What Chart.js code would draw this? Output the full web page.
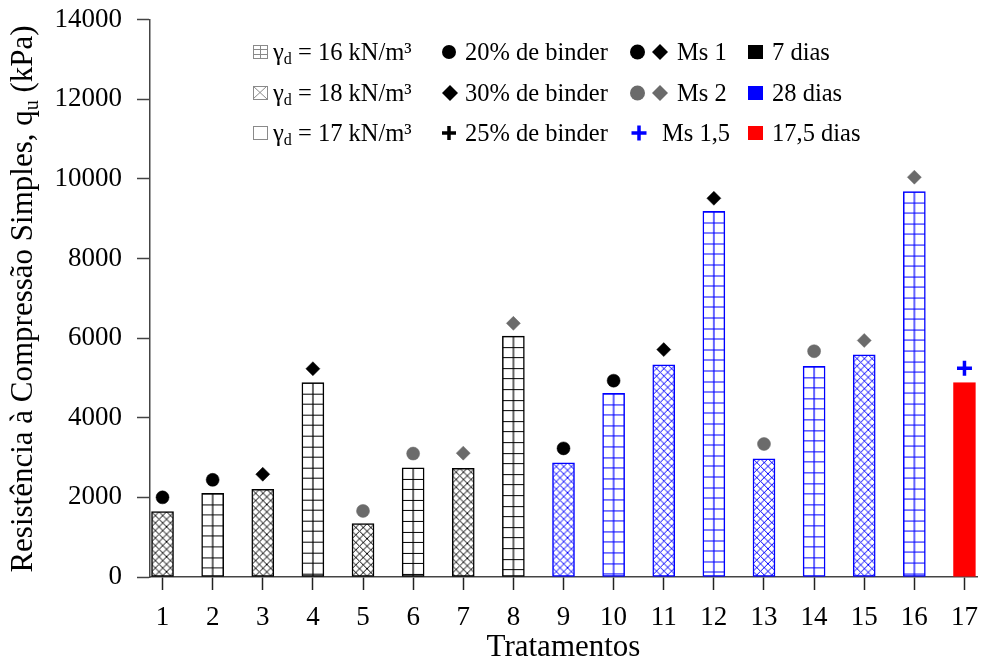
<!DOCTYPE html>
<html><head><meta charset="utf-8">
<script src="https://cdn.jsdelivr.net/npm/chart.js@4.4.1/dist/chart.umd.min.js"></script>
<style>html,body{margin:0;padding:0;background:#fff;overflow:hidden;}canvas{display:block;}</style>
</head><body>
<canvas id="c" width="988" height="666" style="width:988px;height:666px"></canvas>
<script>
// ---- data ----
const treatments   = [1,2,3,4,5,6,7,8,9,10,11,12,13,14,15,16,17];
const quValues     = [1640,2100,2200,4880,1340,2740,2730,6050,2870,4610,5330,9180,2970,5290,5580,9680,4880];
const markerValues = [2000,2440,2580,5230,1660,3100,3110,6370,3230,4930,5710,9510,3340,5670,5940,10040,5240];
const unitWeights  = [18,16,18,16,18,16,18,16,18,16,18,16,18,16,18,16,17];
const cureDays     = [7,7,7,7,7,7,7,7,28,28,28,28,28,28,28,28,17.5];
const binderPct    = [20,20,30,30,20,20,30,30,20,20,30,30,20,20,30,30,25];
const msModules    = [1,1,1,1,2,2,2,2,1,1,1,1,2,2,2,2,1.5];
const yTicks       = [0,2000,4000,6000,8000,10000,12000,14000];
const xTitle = 'Tratamentos';
const yTitleMain = 'Resistência à Compressão Simples, q';
const yTitleSub = 'u';
const yTitleEnd = ' (kPa)';
const legendWeights = ['16 kN/m³','18 kN/m³','17 kN/m³'];
const legendBinder  = ['20% de binder','30% de binder','25% de binder'];
const legendMs      = ['Ms 1','Ms 2','Ms 1,5'];
const legendDays    = ['7 dias','28 dias','17,5 dias'];

// ---- styles ----
const FONT = '"Liberation Serif", "Times New Roman", serif';
const BAR_W = 22;
const dayColor = d => d === 7 ? '#000000' : (d === 28 ? '#0000ff' : '#ff0000');
const GRAY = '#6b6b6b';

function gridPattern(color){
  const c = document.createElement('canvas'); c.width = BAR_W; c.height = 53;
  const g = c.getContext('2d');
  g.fillStyle = '#fff'; g.fillRect(0,0,c.width,c.height);
  g.strokeStyle = color; g.lineWidth = 1.2;
  g.beginPath();
  for (let k=0;k<5;k++){ const y = Math.round(k*10.6)+0.5; g.moveTo(0,y); g.lineTo(BAR_W,y); }
  g.moveTo(BAR_W/2,0); g.lineTo(BAR_W/2,c.height);
  g.stroke();
  return g.createPattern(c,'repeat');
}
function hatchPattern(color){
  const s = 15, p = 7.5;
  const c = document.createElement('canvas'); c.width = s; c.height = s;
  const g = c.getContext('2d');
  g.fillStyle = '#fff'; g.fillRect(0,0,s,s);
  g.strokeStyle = color; g.lineWidth = 1.0;
  g.beginPath();
  for (let o = -2*s; o <= 2*s; o += p){
    g.moveTo(o-1,-1); g.lineTo(o+s+1,s+1);
    g.moveTo(o+s+1,-1); g.lineTo(o-1,s+1);
  }
  g.stroke();
  return g.createPattern(c,'repeat');
}
const barFills = treatments.map((t,i)=>{
  const col = dayColor(cureDays[i]);
  if (unitWeights[i] === 16) return gridPattern(col);
  if (unitWeights[i] === 18) return hatchPattern(col);
  return col;
});
const barBorders = cureDays.map(dayColor);

function pts(pred){
  return treatments.map((t,i)=> pred(i) ? {x:t, y:markerValues[i]} : null).filter(Boolean);
}

const patternAlign = {
  id:'patternAlign',
  beforeDatasetsDraw(chart){
    const meta = chart.getDatasetMeta(0);
    meta.data.forEach((el,i)=>{
      const p = barFills[i];
      if (p && typeof p === 'object' && p.setTransform){
        p.setTransform(new DOMMatrix([1,0,0,1, el.x - el.width/2, el.y]));
      }
    });
  }
};

function circle(ctx,x,y,r,color){ ctx.beginPath(); ctx.arc(x,y,r,0,Math.PI*2); ctx.fillStyle=color; ctx.fill(); }
function diamond(ctx,x,y,r,color){ ctx.beginPath(); ctx.moveTo(x-r,y); ctx.lineTo(x,y-r); ctx.lineTo(x+r,y); ctx.lineTo(x,y+r); ctx.closePath(); ctx.fillStyle=color; ctx.fill(); }
function plus(ctx,x,y,r,color,w){ ctx.beginPath(); ctx.moveTo(x-r,y); ctx.lineTo(x+r,y); ctx.moveTo(x,y-r); ctx.lineTo(x,y+r); ctx.strokeStyle=color; ctx.lineWidth=w; ctx.stroke(); }

const decorations = {
  id:'decorations',
  afterDraw(chart){
    const ctx = chart.ctx;
    ctx.save();
    // y title with subscript
    ctx.translate(31.5, 299);
    ctx.rotate(-Math.PI/2);
    ctx.fillStyle = '#000';
    ctx.textBaseline = 'alphabetic';
    const mainF = '31px ' + FONT, subF = '20px ' + FONT;
    ctx.font = mainF; const w1 = ctx.measureText(yTitleMain).width; const w3 = ctx.measureText(yTitleEnd).width;
    ctx.font = subF; const w2 = ctx.measureText(yTitleSub).width;
    let x0 = -(w1+w2+w3)/2;
    ctx.font = mainF; ctx.fillText(yTitleMain, x0, 0);
    ctx.font = subF; ctx.fillText(yTitleSub, x0+w1, 6);
    ctx.font = mainF; ctx.fillText(yTitleEnd, x0+w1+w2, 0);
    ctx.restore();

    // legend
    ctx.save();
    const base = [60, 101, 141];
    const LF = '24.5px ' + FONT, LSF = '16px ' + FONT;
    ctx.fillStyle = '#000'; ctx.textBaseline = 'alphabetic';
    for (let r=0;r<3;r++){
      const by = base[r], cy = by - 8;
      // icon col 1
      const ix = 253, iy = cy - 7, iw = 14, ih = 13;
      ctx.strokeStyle = '#8a8a8a'; ctx.lineWidth = 1;
      ctx.strokeRect(ix+0.5, iy+0.5, iw, ih);
      ctx.beginPath();
      if (r===0){ ctx.moveTo(ix, iy+4.5); ctx.lineTo(ix+iw, iy+4.5); ctx.moveTo(ix, iy+9.5); ctx.lineTo(ix+iw, iy+9.5); ctx.moveTo(ix+iw/2+0.5, iy); ctx.lineTo(ix+iw/2+0.5, iy+ih); }
      if (r===1){ ctx.moveTo(ix, iy); ctx.lineTo(ix+iw, iy+ih); ctx.moveTo(ix+iw, iy); ctx.lineTo(ix, iy+ih); }
      ctx.stroke();
      ctx.fillStyle = '#000';
      ctx.font = LF; ctx.fillText('γ', 273, by);
      const gw = ctx.measureText('γ').width;
      ctx.font = LSF; ctx.fillText('d', 273+gw, by+4);
      const dw = ctx.measureText('d').width;
      ctx.font = LF; ctx.fillText(' = ' + legendWeights[r], 273+gw+dw, by);
      // col 2 marker
      if (r===0) circle(ctx, 449, cy, 7, '#000');
      if (r===1) diamond(ctx, 450, cy, 8, '#000');
      if (r===2) plus(ctx, 449, cy, 7, '#000', 3.5);
      ctx.fillStyle = '#000'; ctx.fillText(legendBinder[r], 465, by);
      // col 3
      if (r===0){ circle(ctx, 637.5, cy, 7.5, '#000'); diamond(ctx, 660, cy, 8, '#000'); }
      if (r===1){ circle(ctx, 637.5, cy, 7.5, GRAY); diamond(ctx, 660, cy, 8, GRAY); }
      if (r===2){ plus(ctx, 639, cy, 7.5, '#0000ff', 3.5); }
      ctx.fillStyle = '#000'; ctx.fillText(legendMs[r], r===2 ? 662 : 677, by);
      // col 4
      ctx.fillStyle = r===0 ? '#000' : (r===1 ? '#0000ff' : '#ff0000');
      ctx.fillRect(748, cy-7, 15, 14);
      ctx.fillStyle = '#000'; ctx.fillText(legendDays[r], 772, by);
    }
    ctx.restore();
  }
};

new Chart(document.getElementById('c'), {
  type:'bar',
  data:{
    datasets:[
      { type:'bar', data: treatments.map((t,i)=>({x:t, y:quValues[i]})),
        backgroundColor: barFills, borderColor: barBorders, borderWidth: 1.5,
        borderSkipped: false, barThickness: BAR_W, order: 1 },
      { type:'scatter', data: pts(i=>binderPct[i]===20 && msModules[i]===1), pointStyle:'circle', radius:6.5, backgroundColor:'#000', borderColor:'#000', borderWidth:0.5, order:0 },
      { type:'scatter', data: pts(i=>binderPct[i]===30 && msModules[i]===1), pointStyle:'rectRot', radius:7, backgroundColor:'#000', borderColor:'#000', borderWidth:0.5, order:0 },
      { type:'scatter', data: pts(i=>binderPct[i]===20 && msModules[i]===2), pointStyle:'circle', radius:6.5, backgroundColor:GRAY, borderColor:GRAY, borderWidth:0.5, order:0 },
      { type:'scatter', data: pts(i=>binderPct[i]===30 && msModules[i]===2), pointStyle:'rectRot', radius:7, backgroundColor:GRAY, borderColor:GRAY, borderWidth:0.5, order:0 },
      { type:'scatter', data: pts(i=>binderPct[i]===25), pointStyle:'cross', radius:7.5, backgroundColor:'#0000ff', borderColor:'#0000ff', borderWidth:3.5, order:0 }
    ]
  },
  options:{
    responsive:false, animation:false, devicePixelRatio:1,
    layout:{ padding:{ top:19.5, right:0, left:0, bottom:0 } },
    plugins:{ legend:{display:false}, tooltip:{enabled:false} },
    scales:{
      x:{
        type:'linear', min:0.75, max:17.25, offset:false,
        afterBuildTicks: s => { s.ticks = treatments.map(v=>({value:v})); },
        afterFit: s => { s.height = 89; s.paddingLeft = 0; s.paddingRight = 0; },
        grid:{ display:true, drawOnChartArea:false, drawTicks:true, tickLength:13, tickColor:'#222', tickWidth:1.5, offset:false },
        border:{ display:true, color:'#444', width:1.5 },
        ticks:{ font:{ family:FONT, size:27 }, color:'#000', padding:12, maxRotation:0, autoSkip:false, callback: v => String(v) },
        title:{ display:true, text:xTitle, font:{ family:FONT, size:31 }, color:'#000', padding:{top:0,bottom:0} }
      },
      y:{
        type:'linear', min:0, max:14000,
        afterBuildTicks: s => { s.ticks = yTicks.map(v=>({value:v})); },
        afterFit: s => { s.width = 150; s.paddingTop = 0; s.paddingBottom = 0; },
        grid:{ display:true, drawOnChartArea:false, drawTicks:true, tickLength:13, tickColor:'#444', tickWidth:1.5 },
        border:{ display:true, color:'#444', width:1.5 },
        ticks:{ font:{ family:FONT, size:27 }, color:'#000', padding:15, callback: v => String(v) },
        title:{ display:false }
      }
    }
  },
  plugins:[patternAlign, decorations]
});
</script>
</body></html>
